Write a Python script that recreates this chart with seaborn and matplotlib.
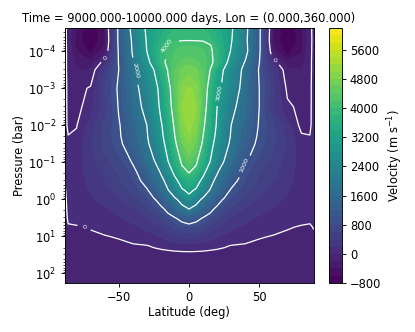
import numpy as np
import pandas as pd
import matplotlib
matplotlib.use("Agg")
import matplotlib.pyplot as plt
import seaborn as sns

# Latitud y log10(presion) de la malla
lat = [-88.6, -86, -80, -70, -60, -50, -40, -30, -25, -20, -15, -10, -5, 0, 5, 10, 15, 20, 25, 30, 40, 50, 60, 70, 80, 86, 88.6]
log_p = [-4.63, -4.3, -4.15, -4, -3.7, -3.5, -3, -2.5, -2, -1.7, -1.5, -1, -0.75, -0.5, -0.25, 0, 0.25, 0.5, 0.75, 1, 1.25, 1.5, 2, 2.26]

u_a = [60, -60, -420, -780, -400, 1110, 2220, 3120, 3300, 3500, 3680, 3800, 3880, 3900, 3880, 3800, 3680, 3500, 3300, 3100, 2200, 1100, -400, -780, -420, -60, 60]
u_b = [60, -60, -500, -790, -450, 1100, 2100, 3050, 3350, 3600, 3860, 3970, 3985, 3990, 3985, 3975, 3880, 3620, 3350, 3050, 2150, 1100, -450, -790, -520, -70, 60]
u_b2 = [60, -55, -460, -730, -380, 1080, 2080, 3030, 3400, 3760, 4030, 4150, 4190, 4200, 4190, 4150, 4040, 3780, 3380, 3000, 2180, 1090, -380, -740, -470, -65, 60]
u_c = [60, -50, -400, -650, -300, 1050, 2060, 3000, 3420, 3830, 4060, 4200, 4280, 4300, 4290, 4220, 4070, 3850, 3400, 2950, 2200, 1080, -300, -680, -420, -60, 60]
u_c2 = [55, -45, -280, -350, 130, 1020, 1930, 2800, 3270, 3860, 4100, 4300, 4450, 4550, 4450, 4300, 4100, 3860, 3220, 2720, 1950, 1010, 150, -330, -280, -45, 55]
u_d = [50, -40, -200, -170, 385, 1000, 1830, 2620, 3000, 3530, 4030, 4400, 4650, 4750, 4650, 4400, 4000, 3400, 2950, 2500, 1820, 950, 330, -150, -200, -40, 50]
u_e = [50, -30, -110, 40, 600, 1060, 1710, 2400, 2750, 3190, 3800, 4400, 4900, 5050, 4900, 4400, 3750, 3200, 2780, 2470, 1700, 1000, 470, -50, -130, -30, 50]
u_f = [50, -30, -80, 130, 480, 1030, 1600, 2250, 2670, 3110, 3670, 4350, 5000, 5150, 5000, 4350, 3600, 3000, 2620, 2200, 1620, 1000, 370, 70, -90, -30, 50]
u_g = [50, -25, -10, 300, 640, 950, 1470, 2000, 2450, 2910, 3490, 4120, 4900, 5100, 4900, 4130, 3500, 2920, 2450, 2000, 1500, 960, 640, 280, -70, -25, 50]
u_h = [50, 5, 40, 350, 660, 930, 1390, 1950, 2360, 2820, 3380, 4000, 4700, 4950, 4700, 4000, 3380, 2820, 2360, 1950, 1380, 920, 640, 350, 40, 5, 50]
u_i = [60, 30, 70, 370, 640, 880, 1330, 1890, 2270, 2730, 3250, 3880, 4550, 4800, 4550, 3890, 3250, 2730, 2270, 1880, 1280, 880, 640, 370, 70, 30, 60]
u_j = [60, 50, 110, 320, 520, 700, 1030, 1620, 1910, 2390, 2950, 3530, 4080, 4400, 4080, 3550, 2980, 2450, 1950, 1650, 1000, 700, 510, 310, 110, 50, 60]
u_k = [30, 50, 115, 280, 460, 620, 860, 1390, 1710, 2060, 2630, 3200, 3800, 4050, 3800, 3200, 2630, 2060, 1710, 1390, 860, 620, 460, 280, 115, 50, 50]
u_l = [-5, 50, 120, 250, 400, 560, 780, 1170, 1490, 1810, 2220, 2780, 3350, 3620, 3350, 2780, 2220, 1810, 1490, 1170, 780, 560, 400, 250, 120, 50, 40]
u_m = [-18, 40, 100, 210, 330, 470, 660, 950, 1260, 1610, 1970, 2430, 2900, 3190, 2900, 2430, 1970, 1610, 1260, 950, 660, 470, 330, 210, 100, 40, 35]
u_n = [-30, 30, 80, 170, 260, 380, 520, 750, 950, 1200, 1540, 1880, 2270, 2650, 2270, 1880, 1540, 1200, 950, 750, 520, 380, 260, 170, 80, 40, 30]
u_o = [-45, 30, 55, 120, 180, 270, 380, 550, 700, 890, 1160, 1450, 1750, 2030, 1750, 1450, 1160, 890, 700, 550, 380, 270, 180, 120, 55, 30, 22]
u_p = [-60, 20, 30, 70, 110, 170, 260, 380, 480, 610, 780, 980, 1160, 1300, 1160, 980, 780, 610, 480, 380, 260, 170, 110, 70, 30, 20, 15]
u_q = [-65, -15, -10, 10, 40, 85, 150, 240, 310, 390, 510, 640, 740, 800, 740, 640, 510, 390, 310, 240, 150, 85, 40, 10, -10, -15, 5]
u_r = [-70, -50, -40, -30, -8, 15, 60, 110, 160, 210, 280, 360, 420, 450, 420, 360, 280, 210, 160, 110, 60, 15, -8, -30, -40, -40, -20]
u_s = [-80, -80, -75, -70, -60, -50, -20, -5, 20, 45, 70, 100, 120, 130, 120, 100, 70, 45, 20, -5, -20, -50, -60, -70, -75, -80, -80]
u_t = [-90] * 27
u_u = [-110] * 27
u_v = [-120] * 27

filas = [u_a, u_b, u_b2, u_c, u_c2, u_d, u_e, u_f, u_g, u_h, u_i, u_j, u_k,
         u_l, u_m, u_n, u_o, u_p, u_q, u_r, u_s, u_t, u_u, u_v]

niveles = list(range(-800, 6400, 200))
lineas = [0, 1000, 2000, 3000, 4000]
ticks_cb = [-800, 0, 800, 1600, 2400, 3200, 4000, 4800, 5600]
ticks_p = [1e-4, 1e-3, 1e-2, 1e-1, 1e0, 1e1, 1e2]
# Donde caen las etiquetas de las lineas (lat, p)
sitios = [(-60.3, 1.4e-4), (61, 1.6e-4), (-74.5, 5.6), (-16.3, 6.6e-5),
          (-37, 3.2e-4), (20.6, 1.3e-3), (40.4, 1.2e-1)]

sns.set_theme(style="ticks", font="DejaVu Sans", rc={
    "axes.edgecolor": "black", "xtick.color": "black", "ytick.color": "black",
    "text.color": "black", "axes.labelcolor": "black", "axes.linewidth": 0.8,
    "xtick.major.size": 3.5, "ytick.major.size": 3.5, "ytick.minor.size": 2,
    "xtick.major.width": 0.8, "ytick.major.width": 0.8, "ytick.minor.width": 0.6,
    "font.size": 10, "axes.labelsize": 10, "xtick.labelsize": 10, "ytick.labelsize": 10,
    "axes.titlesize": 10,
})

df = pd.DataFrame(filas, index=10.0 ** np.array(log_p), columns=lat)

fig = plt.figure(figsize=(5, 4), dpi=83)
ax = fig.add_axes([64.5 / 415, 1 - 283 / 332, 249 / 415, 255 / 332])
cax = fig.add_axes([329 / 415, 1 - 283 / 332, 12.7 / 415, 255 / 332])

cf = ax.contourf(df.columns, df.index, df.values, levels=niveles, cmap=sns.color_palette("viridis", as_cmap=True))
cs = ax.contour(df.columns, df.index, df.values, levels=lineas, colors="white", linewidths=1.1)
ax.set_yscale("log")
ax.set_yticks(ticks_p)
ax.set_ylim(10.0 ** log_p[-1], 10.0 ** log_p[0])
ax.clabel(cs, fmt="%d", fontsize=5.5, inline=True, manual=sitios)

ax.set_xticks([-50, 0, 50])
ax.set_xlabel("Latitude (deg)", labelpad=2)
ax.set_ylabel("Pressure (bar)", labelpad=2)
ax.set_title("Time = 9000.000-10000.000 days, Lon = (0.000,360.000)", pad=5)

cb = fig.colorbar(cf, cax=cax, ticks=ticks_cb)
cb.set_label("Velocity (m s$^{-1}$)")

fig.savefig("out.png", dpi=83)
